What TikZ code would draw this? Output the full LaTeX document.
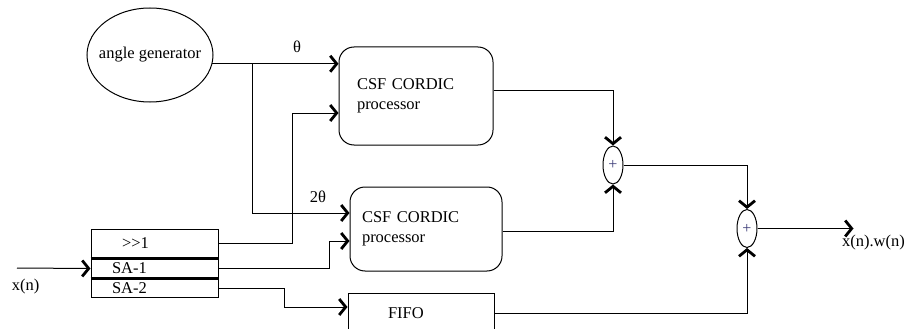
\documentclass[tikz,border=0pt]{standalone}
\usepackage{fontspec}
\setmainfont{Liberation Serif}
\usetikzlibrary{positioning, shapes.geometric, arrows.meta}
\definecolor{plusc}{RGB}{60,60,120}

\tikzset{
  arr/.style={-{Straight Barb[length=6.5pt,width=16pt,line width=2.8pt]}},
  cordic/.style={draw, rounded corners=15pt, inner sep=0pt, align=left},
  reg/.style={draw, minimum width=127pt, inner sep=0pt, align=left},
  adder/.style={draw, ellipse, inner sep=0pt, minimum width=20pt, minimum height=38pt,
    font=\fontsize{16}{16}\selectfont, text=plusc}
}

\begin{document}
\begin{tikzpicture}[x=1pt, y=-1pt, line width=1pt, font=\fontsize{16.5}{20.5}\selectfont]
      \clip (0,0) rectangle (908,329);
      \node[draw, ellipse, inner xsep=-8pt, minimum width=126pt, minimum height=94pt] (ag) at (150,55) {angle generator};
      \node[cordic, minimum width=154pt, minimum height=98pt, text width=118pt] (ctop) at (416,96) {CSF CORDIC\\processor};
      \node[cordic, minimum width=152pt, minimum height=84pt, text width=128pt] (cbot) at (426,229) {CSF CORDIC\\processor};
      \node[reg, minimum height=29pt, text width=65pt] (sr1) at (154.5,243.5) {{>}{>}1};
      \node[reg, minimum height=19pt, text width=85pt, below=0pt of sr1] (sa1) {SA-1};
      \node[reg, minimum height=18pt, text width=85pt, below=0pt of sa1] (sa2) {SA-2};
      \node[draw, minimum width=146pt, minimum height=40pt, text width=66pt, align=left, inner sep=0pt] (fifo) at (421,313) {FIFO};
      \node[adder] (add1) at (613,165) {+};
      \node[adder] (add2) at (747,228.5) {+};
      \node (lth) at (297,47) {θ};
      \node (l2th) at (318,197) {2θ};
      \node (lin) at (25.5,287) {x(n)};
      \node (lout) at (873.5,243) {x(n).w(n)};
      \coordinate (xin) at (17,268);
      \path (ag.-8) ++(40,0) coordinate (th);
      \path (add2.east) ++(96,0) coordinate (yout);

      \draw[line width=2.4pt] (sa1.north west) -- (sa1.north east);
      \draw[line width=2.4pt] (sa2.north west) -- (sa2.north east);

      \draw[arr] (ag.-8) -- (ag.-8 -| ctop.west);
      \draw[arr] (th) |- ([yshift=16pt]cbot.west);
      \draw[arr] (sr1.east) -- ++(74,0) |- ([yshift=-17pt]ctop.west);
      \draw[arr] (sa1.east) -- ++(111,0) |- ([yshift=-12pt]cbot.west);
      \draw[arr] (sa2.east) -- ++(66,0) |- ([yshift=6pt]fifo.west);
      \draw[arr] (xin) -- (sa1.west);
      \draw[arr] ([yshift=5pt]ctop.east) -| (add1.north);
      \draw[arr] ([yshift=-2pt]cbot.east) -| (add1.south);
      \draw[arr] (add1.east) -| (add2.north);
      \draw[arr] (fifo.east) -| (add2.south);
      \draw[arr] (add2.east) -- (yout);
\end{tikzpicture}
\end{document}
